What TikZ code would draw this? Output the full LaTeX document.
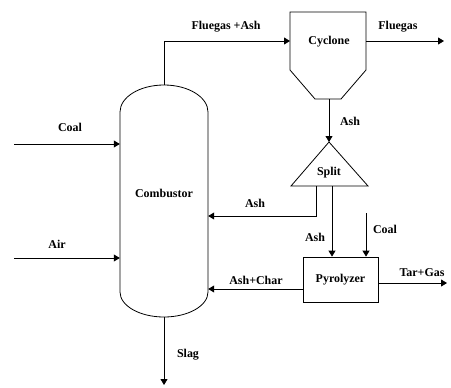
\documentclass[tikz,border=0pt]{standalone}
\usepackage{fontspec}
\setmainfont{Liberation Serif}
\usetikzlibrary{arrows.meta, positioning, shapes.geometric}

\begin{document}
\begin{tikzpicture}[x=1bp, y=1bp,
    lbl/.style={font=\fontsize{12}{14}\selectfont\bfseries, inner sep=0pt},
    unit/.style={draw, line width=0.8bp, minimum width=75bp, minimum height=45bp, inner sep=0pt, font=\fontsize{12}{14}\selectfont\bfseries},
    pipe/.style={line width=0.8bp},
    stream/.style={-{Triangle[length=6bp, width=7bp]}, line width=0.8bp}
  ]
  \useasboundingbox (0,0) rectangle (451,387);

  % combustor body
  \node[minimum width=88bp, minimum height=232bp, inner sep=0pt] (comb) at (164,186) {};
  \draw[pipe] (120,275) arc[start angle=180, end angle=0, x radius=44bp, y radius=27bp]
    -- (208,95) arc[start angle=0, end angle=-180, x radius=44bp, y radius=25bp] -- cycle;
  \node[lbl] (comblbl) at (164,194) {Combustor};

  % cyclone
  \draw[pipe] (290,375) -- (366,375) -- (366,317) -- (341,288) -- (315,288) -- (290,317) -- cycle;
  \node[lbl] (cyc) at (329,345) {Cyclone};
  \coordinate (cycin) at (290,346);
  \coordinate (cycout) at (366,346);
  \coordinate (cycbot) at (329,288);

  % split
  \coordinate (splittop) at (329,245);
  \draw[pipe] (splittop) -- (368,201) -- (291,201) -- cycle;
  \node[lbl] (split) at (329,214) {Split};
  \coordinate (splitL) at (316,201);
  \coordinate (splitB) at (332,201);

  % pyrolyzer
  \node[unit] (pyro) at (340.5,107.5) {Pyrolyzer};

  % free ends
  \coordinate (flueout) at (444,346);
  \coordinate (coalP) at (366,174);
  \coordinate (charout) at (303,98);
  \coordinate (tarout) at (378,104);
  \coordinate (tarend) at (447,104);
  \coordinate (slagout) at (164,2);
  \coordinate (coalL) at (14,243);
  \coordinate (airL) at (14,129);

  \draw[stream] (comb.north) |- (cycin);
  \draw[stream] (cycout) -- (flueout);
  \draw[stream] (cycbot) -- (splittop);
  \draw[stream] (splitL) |- ([yshift=-15bp]comb.east);
  \draw[stream] (splitB) -- (splitB |- pyro.north);
  \draw[stream] (coalP) -- (coalP |- pyro.north);
  \draw[stream] (charout) -- (charout -| comb.east);
  \draw[stream] (tarout) -- (tarend);
  \draw[stream] (comb.south) -- (slagout);
  \draw[stream] (coalL) -- (coalL -| comb.west);
  \draw[stream] (airL) -- (airL -| comb.west);

  % stream labels
  \node[lbl] at (226,360) {Fluegas +Ash};
  \node[lbl] at (398,360) {Fluegas};
  \node[lbl] at (350,266) {Ash};
  \node[lbl] at (255,184) {Ash};
  \node[lbl] at (315,150) {Ash};
  \node[lbl] at (385,158) {Coal};
  \node[lbl] at (256,107) {Ash+Char};
  \node[lbl] at (422,114) {Tar+Gas};
  \node[lbl] at (188,32) {Slag};
  \node[lbl] at (70,260) {Coal};
  \node[lbl] at (57,143) {Air};
\end{tikzpicture}
\end{document}
